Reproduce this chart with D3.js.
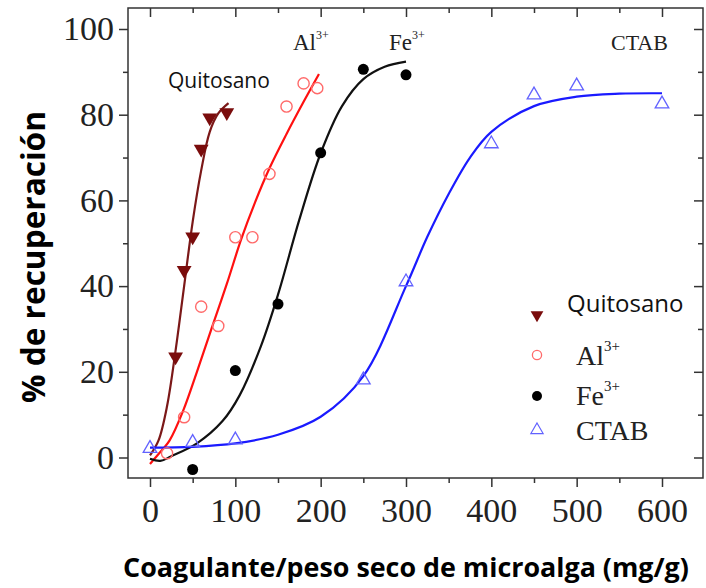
<!DOCTYPE html>
<html>
<head>
<meta charset="utf-8">
<title>% de recuperación</title>
<script src="https://cdn.jsdelivr.net/npm/d3@7"></script>
<style>
  body { margin: 0; background: #fff; }
  svg { display: block; }
</style>
</head>
<body>
<svg id="chart" width="706" height="588"></svg>
<script>
// points (mg/g, % recuperación)
const quitosanoX = [30, 40, 50, 60, 70, 90];
const quitosanoY = [23.5, 43.7, 51.5, 72, 79.3, 80.5];
const alX = [20, 40, 60, 80, 100, 120, 140, 160, 180, 196];
const alY = [1, 9.4, 35.2, 30.7, 51.4, 51.4, 66.2, 81.9, 87.3, 86.2];
const feX = [50, 100, 150, 200, 250, 300];
const feY = [-2.8, 20.3, 35.8, 71.1, 90.6, 89.3];
const ctabX = [0, 50, 100, 250, 300, 400, 450, 500, 600];
const ctabY = [2.1, 3.5, 4.1, 18.1, 41, 73.2, 84.6, 86.7, 82.5];

// fitted curves, also
const quitosanoFitX = [0, 10, 20, 30, 40, 50, 60, 70, 80, 92];
const quitosanoFitY = [0.5, 4, 12, 25, 40, 55, 67, 76, 80.3, 82.7];
const alFitX = [0, 10, 23, 39, 55, 72, 90, 107, 123, 140, 160, 180, 198];
const alFitY = [-1.5, 0.8, 4, 11, 20, 30, 40.5, 51, 59.5, 67.5, 75.5, 83, 89.5];
const feFitX = [0, 12, 25, 55, 85, 105, 130, 150, 175, 200, 225, 250, 275, 300];
const feFitY = [-0.3, -0.8, 0.3, 3.3, 8.5, 14.5, 26, 38, 55.5, 71, 82, 88.3, 91.2, 92.4];
const ctabFitX = [0, 50, 100, 150, 200, 250, 300, 325, 350, 375, 400, 450, 500, 550, 600];
const ctabFitY = [2.3, 2.5, 3.3, 5.3, 9.5, 19, 40, 51.5, 61.5, 70, 76, 82, 84.2, 84.9, 85];

const xMajor = [0, 100, 200, 300, 400, 500, 600];
const xMinor = [50, 150, 250, 350, 450, 550];
const yMajor = [0, 20, 40, 60, 80, 100];
const yMinor = [10, 30, 50, 70, 90];

const legendNames = ["Quitosano", "Al", "Fe", "CTAB"];
const legendSup = ["", "3+", "3+", ""];

const svg = d3.select("#chart");

const frame = {left: 128, right: 703, top: 8, bottom: 478};

const x = d3.scaleLinear().domain([0, 600]).range([150, 662]);
const y = d3.scaleLinear().domain([0, 100]).range([457.5, 29]);

const axisColor = "#333";
const serif = "'Liberation Serif', 'Times New Roman', serif";
const sans = "'Open Sans', 'Noto Sans', sans-serif";

// axes ---------------------------------
function styleAxis(g) {
    g.select(".domain").remove();
    g.selectAll("line").attr("stroke", axisColor).attr("stroke-width", 1.5);
    g.selectAll("text")
        .attr("fill", "#222")
        .style("font-family", serif)
        .style("font-size", "34px");
}

svg.append("g")
    .attr("transform", "translate(0," + frame.bottom + ")")
    .call(d3.axisBottom(x).tickValues(xMajor).tickSize(9).tickPadding(11))
    .call(styleAxis);
svg.append("g")
    .attr("transform", "translate(0," + frame.bottom + ")")
    .call(d3.axisBottom(x).tickValues(xMinor).tickSize(5).tickFormat(""))
    .call(styleAxis);

svg.append("g")
    .attr("transform", "translate(" + frame.left + ",0)")
    .call(d3.axisLeft(y).tickValues(yMajor).tickSize(9).tickPadding(5))
    .call(styleAxis);
svg.append("g")
    .attr("transform", "translate(" + frame.left + ",0)")
    .call(d3.axisLeft(y).tickValues(yMinor).tickSize(5).tickFormat(""))
    .call(styleAxis);

// top and right ticks point inward
svg.append("g")
    .attr("transform", "translate(0," + frame.top + ")")
    .call(d3.axisTop(x).tickValues(xMajor).tickSize(-9).tickFormat(""))
    .call(styleAxis);
svg.append("g")
    .attr("transform", "translate(0," + frame.top + ")")
    .call(d3.axisTop(x).tickValues(xMinor).tickSize(-5).tickFormat(""))
    .call(styleAxis);
svg.append("g")
    .attr("transform", "translate(" + frame.right + ",0)")
    .call(d3.axisRight(y).tickValues(yMajor).tickSize(-9).tickFormat(""))
    .call(styleAxis);
svg.append("g")
    .attr("transform", "translate(" + frame.right + ",0)")
    .call(d3.axisRight(y).tickValues(yMinor).tickSize(-5).tickFormat(""))
    .call(styleAxis);

svg.append("rect")
    .attr("x", frame.left)
    .attr("y", frame.top)
    .attr("width", frame.right - frame.left)
    .attr("height", frame.bottom - frame.top)
    .attr("fill", "none")
    .attr("stroke", axisColor)
    .attr("stroke-width", 1.5);

// fit a text to a measured width
function fitWidth(t, w) {
    const cur = t.node().getComputedTextLength();
    const fs = parseFloat(t.style("font-size"));
    t.style("font-size", (fs * w / cur) + "px");
}

const xTitle = svg.append("text")
    .attr("x", 406)
    .attr("y", 577)
    .attr("text-anchor", "middle")
    .style("font-family", sans)
    .style("font-weight", "bold")
    .style("font-size", "24px")
    .text("Coagulante/peso seco de microalga (mg/g)");
fitWidth(xTitle, 566);

const yTitle = svg.append("text")
    .attr("transform", "translate(45,257) rotate(-90)")
    .attr("text-anchor", "middle")
    .style("font-family", sans)
    .style("font-weight", "bold")
    .style("font-size", "28px")
    .text("% de recuperación");
fitWidth(yTitle, 292);

// fitted curves ---------------------------------
const series = [
    {fx: quitosanoFitX, fy: quitosanoFitY, color: "#7b1818"},
    {fx: alFitX, fy: alFitY, color: "#ff1010"},
    {fx: feFitX, fy: feFitY, color: "#111"},
    {fx: ctabFitX, fy: ctabFitY, color: "#1a1aff"}
];

const line = d3.line()
    .x(d => x(d[0]))
    .y(d => y(d[1]))
    .curve(d3.curveCatmullRom.alpha(0.5));

svg.selectAll(".fit")
    .data(series)
    .enter()
    .append("path")
    .attr("class", "fit")
    .attr("d", s => line(d3.zip(s.fx, s.fy)))
    .attr("fill", "none")
    .attr("stroke", s => s.color)
    .attr("stroke-width", 2.2);

// markers ---------------------------------
const triDown = d3.symbol().type(d3.symbolTriangle).size(95);
const triUp = d3.symbol().type(d3.symbolTriangle).size(80);

svg.selectAll(".quitosano")
    .data(d3.zip(quitosanoX, quitosanoY))
    .enter()
    .append("path")
    .attr("class", "quitosano")
    .attr("d", triDown)
    .attr("transform", d => "translate(" + x(d[0]) + "," + y(d[1]) + ") rotate(180)")
    .attr("fill", "#7a0c0c");

svg.selectAll(".al")
    .data(d3.zip(alX, alY))
    .enter()
    .append("circle")
    .attr("class", "al")
    .attr("cx", d => x(d[0]))
    .attr("cy", d => y(d[1]))
    .attr("r", 5.6)
    .attr("fill", "none")
    .attr("stroke", "#ff6a6a")
    .attr("stroke-width", 1.4);

svg.selectAll(".fe")
    .data(d3.zip(feX, feY))
    .enter()
    .append("circle")
    .attr("class", "fe")
    .attr("cx", d => x(d[0]))
    .attr("cy", d => y(d[1]))
    .attr("r", 5.5)
    .attr("fill", "#000");

svg.selectAll(".ctab")
    .data(d3.zip(ctabX, ctabY))
    .enter()
    .append("path")
    .attr("class", "ctab")
    .attr("d", triUp)
    .attr("transform", d => "translate(" + x(d[0]) + "," + y(d[1]) + ")")
    .attr("fill", "none")
    .attr("stroke", "#6262ff")
    .attr("stroke-width", 1.3);

// annotations above the curves
function labelSup(gx, gy, main, sup, size, supSize, rise) {
    const t = svg.append("text")
        .attr("x", gx)
        .attr("y", gy)
        .attr("fill", "#222")
        .style("font-family", serif)
        .style("font-size", size + "px");
    t.append("tspan").text(main);
    if (sup) {
        t.append("tspan")
            .attr("dy", -rise)
            .style("font-size", supSize + "px")
            .text(sup);
    }
    return t;
}

svg.append("text")
    .attr("x", 168)
    .attr("y", 88)
    .attr("fill", "#111")
    .style("font-family", sans)
    .style("font-size", "21px")
    .text("Quitosano");
labelSup(293, 50, "Al", "3+", 23, 12, 11);
labelSup(389, 50, "Fe", "3+", 23, 12, 11);
labelSup(611, 50, "CTAB", "", 22, 0, 0);

// legend ---------------------------------
const legendY = [315, 355, 396, 430];
const legendX = 537;

svg.append("path")
    .attr("d", d3.symbol().type(d3.symbolTriangle).size(70))
    .attr("transform", "translate(" + legendX + "," + legendY[0] + ") rotate(180)")
    .attr("fill", "#7a0c0c");
svg.append("circle")
    .attr("cx", legendX).attr("cy", legendY[1]).attr("r", 4.6)
    .attr("fill", "none").attr("stroke", "#ff6a6a").attr("stroke-width", 1.3);
svg.append("circle")
    .attr("cx", legendX).attr("cy", legendY[2]).attr("r", 5)
    .attr("fill", "#000");
svg.append("path")
    .attr("d", d3.symbol().type(d3.symbolTriangle).size(65))
    .attr("transform", "translate(" + legendX + "," + legendY[3] + ")")
    .attr("fill", "none").attr("stroke", "#6262ff").attr("stroke-width", 1.2);

svg.append("text")
    .attr("x", 567)
    .attr("y", 312)
    .attr("fill", "#111")
    .style("font-family", sans)
    .style("font-size", "24px")
    .text(legendNames[0]);
labelSup(576, 365, legendNames[1], legendSup[1], 28, 15, 14);
labelSup(576, 405, legendNames[2], legendSup[2], 28, 15, 14);
labelSup(576, 440, legendNames[3], legendSup[3], 28, 0, 0);
</script>
</body>
</html>
